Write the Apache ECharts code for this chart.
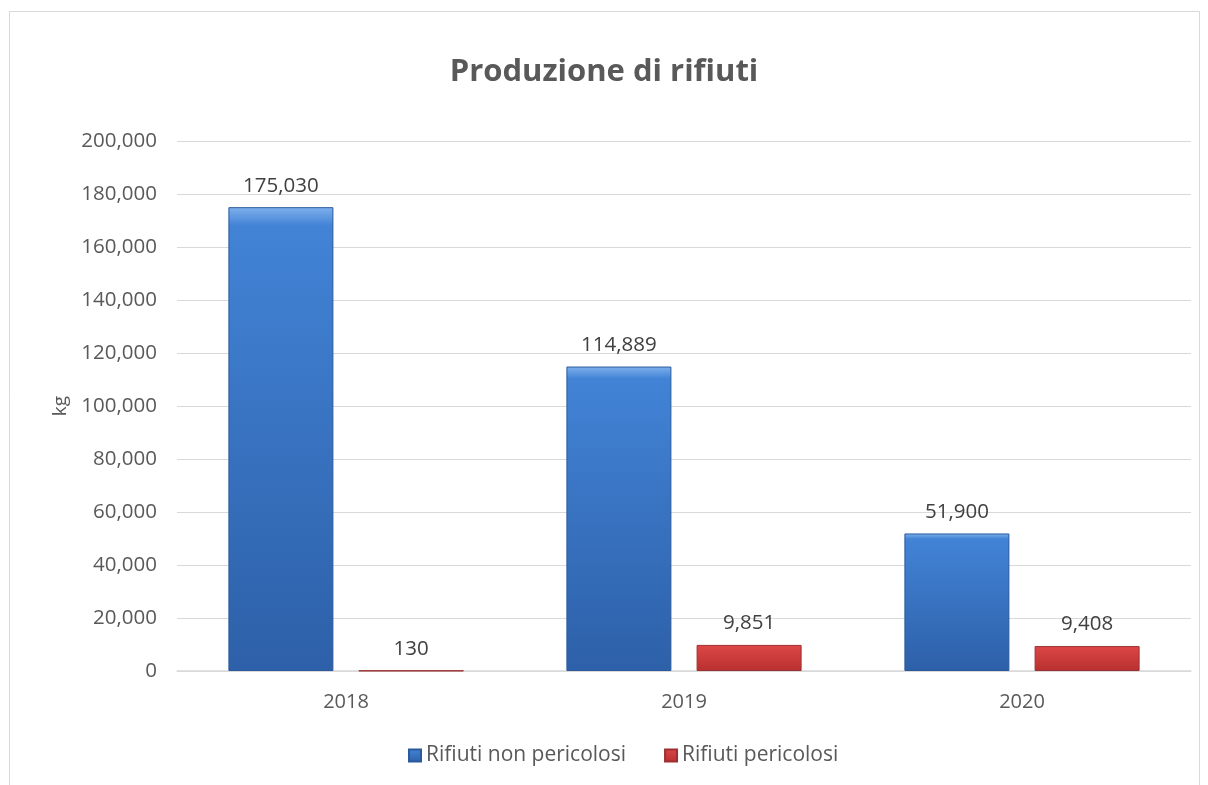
<!DOCTYPE html>
<html>
<head>
<meta charset="utf-8">
<script src="https://cdn.jsdelivr.net/npm/echarts@6/dist/echarts.min.js"></script>
<style>
  html, body { margin: 0; padding: 0; background: #fff; }
  #chart { width: 1208px; height: 785px; }
</style>
</head>
<body>
<div id="chart"></div>
<script>
const years = ['2018', '2019', '2020']
const nonPericolosi = [175030, 114889, 51900]
const pericolosi = [130, 9851, 9408]
const yTicks = { min: 0, max: 200000, interval: 20000 }

const fmt = v => v.toLocaleString('en-US')
const FONT = '"Open Sans", Lato, sans-serif'

function grad(top, mid, bottom) {
  return new echarts.graphic.LinearGradient(0, 0, 0, 1, [
    { offset: 0, color: top },
    { offset: 0.04, color: mid },
    { offset: 1, color: bottom }
  ])
}

const chart = echarts.init(document.getElementById('chart'))
chart.setOption({
  textStyle: { fontFamily: FONT },
  title: {
    text: 'Produzione di rifiuti',
    left: 'center',
    top: 52,
    textStyle: { fontSize: 31, fontWeight: 'bold', color: '#595959', fontFamily: FONT }
  },
  graphic: [{
    type: 'rect',
    shape: { x: 9.5, y: 11.5, width: 1190, height: 790 },
    style: { fill: 'none', stroke: '#d9d9d9', lineWidth: 1 },
    silent: true
  }],
  legend: {
    bottom: 14,
    left: 403,
    itemWidth: 12,
    itemHeight: 12,
    itemGap: 38,
    icon: 'rect',
    textStyle: { fontSize: 21, color: '#595959', fontFamily: FONT },
    data: ['Rifiuti non pericolosi', 'Rifiuti pericolosi']
  },
  grid: { left: 177, right: 17, top: 141, bottom: 114 },
  xAxis: {
    type: 'category',
    data: years,
    axisLine: { lineStyle: { color: '#d9d9d9', width: 1.5 } },
    axisTick: { show: false },
    axisLabel: { fontSize: 20, color: '#595959', margin: 21, fontFamily: FONT }
  },
  yAxis: {
    type: 'value',
    min: yTicks.min,
    max: yTicks.max,
    interval: yTicks.interval,
    name: 'kg',
    nameLocation: 'middle',
    nameGap: 104,
    nameTextStyle: { fontSize: 19, color: '#595959', fontFamily: FONT },
    axisLine: { show: false },
    axisTick: { show: false },
    axisLabel: { fontSize: 20.5, color: '#595959', margin: 20, fontFamily: FONT, formatter: fmt },
    splitLine: { lineStyle: { color: '#d9d9d9', width: 1 } }
  },
  series: [{
    name: 'Rifiuti non pericolosi',
    type: 'bar',
    data: nonPericolosi,
    barWidth: 105,
    barGap: '24%',
    itemStyle: {
      color: grad('#7fb0ec', '#4283d6', '#2d60a8'),
      borderColor: '#2a5a9c',
      borderWidth: 1
    },
    label: { show: true, position: 'top', distance: 11, fontSize: 20.5, color: '#404040', fontFamily: FONT, formatter: p => fmt(p.value) }
  }, {
    name: 'Rifiuti pericolosi',
    type: 'bar',
    data: pericolosi,
    barWidth: 105,
    itemStyle: {
      color: grad('#f08a8a', '#dc4646', '#b83030'),
      borderColor: '#9c3030',
      borderWidth: 1
    },
    label: { show: true, position: 'top', distance: 11, fontSize: 20.5, color: '#404040', fontFamily: FONT, formatter: p => fmt(p.value) }
  }],
  color: ['#4283d6', '#dc4646']
})
</script>
</body>
</html>
